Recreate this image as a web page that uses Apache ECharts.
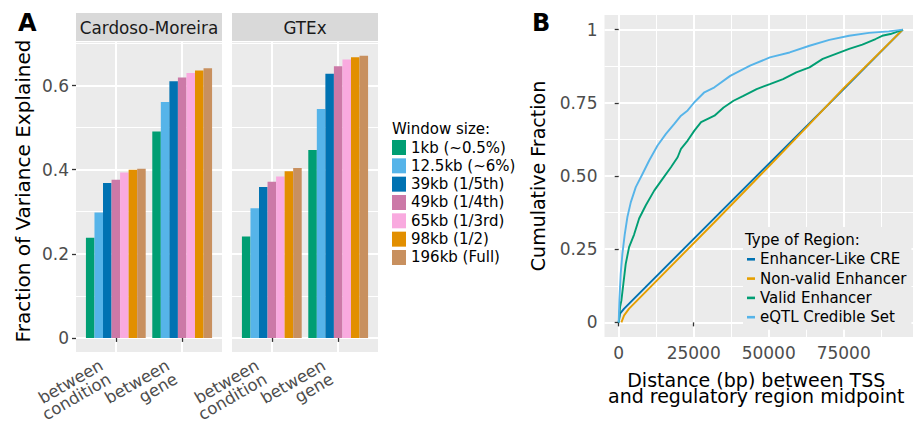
<!DOCTYPE html>
<html><head><meta charset="utf-8">
<script src="https://cdn.jsdelivr.net/npm/echarts@6/dist/echarts.min.js"></script>
<style>html,body{margin:0;padding:0;background:#fff}#c{width:913px;height:423px}</style>
</head><body><div id="c"></div>
<script>
// ---------- Panel A data ----------
const groups = ['between\ncondition', 'between\ngene'];
const panelNames = ['Cardoso-Moreira', 'GTEx'];
const windowSizes = ['1kb (~0.5%)', '12.5kb (~6%)', '39kb (1/5th)', '49kb (1/4th)', '65kb (1/3rd)', '98kb (1/2)', '196kb (Full)'];
const windowColors = ['#009E73', '#56B4E9', '#0072B2', '#CC79A7', '#F9AADF', '#E28F00', '#C8905F'];
// values per window size: [between condition, between gene]
const cardosoValues = [[0.238, 0.491], [0.298, 0.561], [0.368, 0.610], [0.376, 0.619], [0.393, 0.630], [0.400, 0.636], [0.402, 0.641]];
const gtexValues = [[0.241, 0.447], [0.308, 0.544], [0.359, 0.628], [0.371, 0.646], [0.384, 0.662], [0.396, 0.667], [0.404, 0.671]];
const yTicksA = [0, 0.2, 0.4, 0.6];
const yTickLabelsA = ['0', '0.2', '0.4', '0.6'];
const yMinorA = [0.1, 0.3, 0.5, 0.7];

// ---------- Panel B data ----------
const regionTypes = ['Enhancer-Like CRE', 'Non-valid Enhancer', 'Valid Enhancer', 'eQTL Credible Set'];
const regionColors = ['#0072B2', '#E69F00', '#009E73', '#56B4E9'];
const enhancerLikeCre = [[0, 0], [450, 0.03], [1800, 0.047], [31920, 0.356], [50000, 0.541], [75000, 0.797], [94700, 1]];
const nonValidEnhancer = [[900, 0], [1800, 0.024], [3460, 0.047], [31920, 0.342], [50000, 0.532], [62500, 0.665], [75000, 0.80], [94700, 1]];
const validEnhancer = [[0, 0], [450, 0.052], [900, 0.075], [1560, 0.132], [2340, 0.20], [3460, 0.257], [5130, 0.30], [6810, 0.355], [9040, 0.40], [11830, 0.45], [14620, 0.49], [17410, 0.53], [19640, 0.564], [20760, 0.593], [22990, 0.621], [25220, 0.655], [27460, 0.684], [29690, 0.695], [31920, 0.706], [34970, 0.734], [38270, 0.757], [41570, 0.774], [45980, 0.797], [50390, 0.814], [54790, 0.831], [59200, 0.854], [63600, 0.871], [68010, 0.90], [72420, 0.917], [76810, 0.934], [81220, 0.949], [85630, 0.968], [87830, 0.979], [90580, 0.985], [92230, 0.991], [94700, 1]];
const eqtlCredibleSet = [[0, 0], [220, 0.075], [670, 0.166], [1230, 0.234], [2000, 0.30], [2900, 0.36], [4020, 0.41], [5690, 0.462], [7920, 0.507], [10160, 0.553], [12950, 0.604], [15740, 0.644], [18530, 0.678], [20760, 0.706], [22990, 0.724], [25220, 0.752], [28570, 0.786], [31920, 0.803], [37170, 0.842], [43780, 0.877], [50390, 0.905], [56990, 0.922], [63600, 0.945], [70200, 0.965], [76810, 0.979], [83420, 0.989], [90030, 0.994], [94700, 1]];
const xTicksB = [0, 25000, 50000, 75000];
const xMinorB = [12500, 37500, 62500, 87500];
const yTicksB = [0, 0.25, 0.5, 0.75, 1];
const yTickLabelsB = ['0', '0.25', '0.50', '0.75', '1'];
const yMinorB = [0.125, 0.375, 0.625, 0.875];

// ---------- build ----------
const FONT = 'DejaVu Sans';
const TICKCOL = '#4D4D4D';
const chart = echarts.init(document.getElementById('c'), null, { renderer: 'svg' });
const gridsA = [{ left: 76, top: 42, width: 146, height: 310 }, { left: 232, top: 42, width: 146, height: 310 }];
const gridB = { left: 604.5, top: 15, width: 312.5, height: 322 };
const grids = gridsA.concat([gridB]).map(g => Object.assign({ show: true, backgroundColor: '#EBEBEB', borderWidth: 0, containLabel: false, outerBoundsMode: 'none' }, g));

const majorSplit = { show: true, lineStyle: { color: '#FFFFFF', width: 2 } };
const minorSplit = { show: true, lineStyle: { color: '#FFFFFF', width: 1 } };
const tickStyle = { length: 4, lineStyle: { color: '#333333', width: 1.3 } };

const xAxes = [];
const yAxes = [];
const valuesA = [cardosoValues, gtexValues];
gridsA.forEach((g, p) => {
  // one x axis per group so each rotated label is laid out on its own
  groups.forEach((grp, j) => {
    xAxes.push({
      type: 'value', gridIndex: p, min: 0.4, max: 2.6, position: 'bottom',
      axisLine: { show: false },
      axisTick: Object.assign({ show: true, customValues: [j + 1] }, tickStyle),
      axisLabel: {
        customValues: [j + 1],
        formatter: v => groups[Math.round(v) - 1],
        showMinLabel: true, showMaxLabel: true, hideOverlap: false,
        rotate: 30, align: 'right', verticalAlign: 'top', margin: -5.5, padding: [0, 21, 0, 0],
        color: TICKCOL, fontSize: 16.5, fontFamily: FONT, lineHeight: 16
      },
      splitLine: majorSplit
    });
  });
  yAxes.push({
    type: 'value', gridIndex: p, min: -0.0335, max: 0.7035,
    axisLine: { show: false },
    axisTick: Object.assign({ show: p === 0, customValues: yTicksA }, tickStyle),
    axisLabel: {
      show: p === 0, customValues: yTicksA, showMinLabel: true, showMaxLabel: true,
      formatter: v => yTickLabelsA[yTicksA.findIndex(t => Math.abs(t - v) < 1e-9)],
      color: TICKCOL, fontSize: 17, fontFamily: FONT, margin: 7
    },
    splitLine: majorSplit,
    name: p === 0 ? 'Fraction of Variance Explained' : '',
    nameLocation: 'middle', nameGap: 43,
    nameTextStyle: { fontSize: 20, fontFamily: FONT, color: '#000', padding: [0, 0, 0, 12] }
  });
  yAxes.push({
    type: 'value', gridIndex: p, min: -0.0335, max: 0.7035, position: 'left',
    axisLine: { show: false },
    axisTick: { show: false, customValues: yMinorA },
    axisLabel: { show: false, customValues: yMinorA },
    splitLine: minorSplit, z: 0
  });
});
// Panel B axes
xAxes.push({
  type: 'value', gridIndex: 2, min: -4735, max: 99435,
  axisLine: { show: false },
  axisTick: Object.assign({ show: true, customValues: xTicksB }, tickStyle),
  axisLabel: { customValues: xTicksB, showMinLabel: true, showMaxLabel: true, formatter: v => String(v), color: TICKCOL, fontSize: 17, fontFamily: FONT, margin: 7 },
  splitLine: majorSplit,
  name: 'Distance (bp) between TSS\nand regulatory region midpoint',
  nameLocation: 'middle', nameGap: 34.5,
  nameTextStyle: { fontSize: 19, fontFamily: FONT, color: '#000', lineHeight: 16.5, padding: [0, 9, 0, 0] }
});
xAxes.push({
  type: 'value', gridIndex: 2, min: -4735, max: 99435, position: 'bottom',
  axisLine: { show: false },
  axisTick: { show: false, customValues: xMinorB },
  axisLabel: { show: false, customValues: xMinorB },
  splitLine: minorSplit
});
yAxes.push({
  type: 'value', gridIndex: 2, min: -0.05, max: 1.05,
  axisLine: { show: false },
  axisTick: Object.assign({ show: true, customValues: yTicksB }, tickStyle),
  axisLabel: {
    customValues: yTicksB, showMinLabel: true, showMaxLabel: true,
    formatter: v => yTickLabelsB[yTicksB.findIndex(t => Math.abs(t - v) < 1e-9)],
    color: TICKCOL, fontSize: 17, fontFamily: FONT, margin: 7
  },
  splitLine: majorSplit,
  name: 'Cumulative Fraction', nameLocation: 'middle', nameGap: 57,
  nameTextStyle: { fontSize: 19, fontFamily: FONT, color: '#000' }
});
yAxes.push({
  type: 'value', gridIndex: 2, min: -0.05, max: 1.05, position: 'left',
  axisLine: { show: false },
  axisTick: { show: false, customValues: yMinorB },
  axisLabel: { show: false, customValues: yMinorB },
  splitLine: minorSplit
});

const series = [];
valuesA.forEach((vals, p) => {
  windowSizes.forEach((w, i) => {
    series.push({
      type: 'bar', name: w, xAxisIndex: p * 2, yAxisIndex: p * 2,
      barWidth: 8.54, barGap: '0%',
      itemStyle: { color: windowColors[i] },
      data: groups.map((g, j) => [j + 1, vals[i][j]]),
      animation: false
    });
  });
});
const curves = [enhancerLikeCre, nonValidEnhancer, validEnhancer, eqtlCredibleSet];
regionTypes.forEach((r, i) => {
  series.push({
    type: 'line', name: r, xAxisIndex: 4, yAxisIndex: 4,
    data: curves[i], showSymbol: false, symbol: 'none',
    lineStyle: { color: regionColors[i], width: 1.9 },
    itemStyle: { color: regionColors[i] },
    animation: false, z: 3 + i
  });
});

const graphics = [];
gridsA.forEach((g, p) => {
  graphics.push({ type: 'rect', shape: { x: g.left, y: 13, width: g.width, height: 28 }, style: { fill: '#D9D9D9' }, silent: true });
  graphics.push({ type: 'text', x: g.left + g.width / 2, y: 27.5, style: { text: panelNames[p], fill: '#1A1A1A', font: '16.8px "DejaVu Sans"', textAlign: 'center', textVerticalAlign: 'middle' } });
});

chart.setOption({
  animation: false,
  textStyle: { fontFamily: FONT },
  grid: grids,
  xAxis: xAxes,
  yAxis: yAxes,
  series: series,
  title: [
    { text: 'A', left: 18, top: 11, padding: 0, textStyle: { fontSize: 24, fontWeight: 'bold', fontFamily: FONT, color: '#000' } },
    { text: 'B', left: 532, top: 11, padding: 0, textStyle: { fontSize: 24, fontWeight: 'bold', fontFamily: FONT, color: '#000' } },
    { text: 'Window size:', left: 392, top: 121, padding: 0, textStyle: { fontSize: 15, fontWeight: 'normal', fontFamily: FONT, color: '#000' } },
    { text: 'Type of Region:', left: 745, top: 232.5, padding: 0, z: 10, textStyle: { fontSize: 15, fontWeight: 'normal', fontFamily: FONT, color: '#000' } }
  ],
  legend: [
    {
      data: windowSizes, orient: 'vertical', left: 392, top: 140, padding: 0,
      icon: 'rect', itemWidth: 14, itemHeight: 15, itemGap: 3.33, selectedMode: false,
      textStyle: { fontSize: 15, fontFamily: FONT, color: '#000' }
    },
    {
      data: regionTypes, orient: 'vertical', left: 743, top: 227, padding: [24.8, 5, 5, 4],
      backgroundColor: '#EBEBEB', icon: 'rect', itemWidth: 8, itemHeight: 2.6, itemGap: 4.3, selectedMode: false,
      textStyle: { fontSize: 15, fontFamily: FONT, color: '#000' }, z: 8
    }
  ],
  graphic: graphics
});
</script>
</body></html>
